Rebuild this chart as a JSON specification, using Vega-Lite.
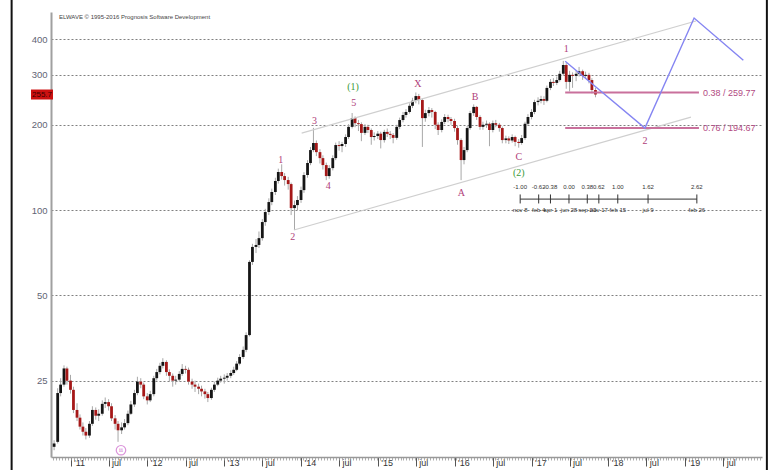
{
"$schema": "https://vega.github.io/schema/vega-lite/v6.json",
"width": 711, "height": 445, "autosize": "none",
"padding": {"left": 51, "top": 12, "right": 13, "bottom": 13},
"background": "white",
"config": {"view": {"stroke": null}, "font": "Liberation Sans"},
"resolve": {"axis": {"x": "independent", "y": "independent"}},
"datasets": {
"candles": [
{"d":"2010-10-15","o":14.6,"h":15.4,"l":14.2,"c":15.0},
{"d":"2010-11-01","o":15.2,"h":23.5,"l":15.0,"c":22.6},
{"d":"2010-11-15","o":22.6,"h":25.5,"l":22.0,"c":24.2},
{"d":"2010-12-01","o":24.2,"h":28.3,"l":23.8,"c":27.6},
{"d":"2010-12-15","o":27.6,"h":28.0,"l":24.2,"c":25.0},
{"d":"2011-01-01","o":25.0,"h":26.2,"l":22.5,"c":23.2},
{"d":"2011-01-15","o":23.2,"h":23.8,"l":19.2,"c":19.7},
{"d":"2011-02-01","o":19.7,"h":20.8,"l":18.0,"c":18.5},
{"d":"2011-02-15","o":18.5,"h":19.0,"l":16.8,"c":17.2},
{"d":"2011-03-01","o":17.2,"h":17.8,"l":16.0,"c":16.5},
{"d":"2011-03-15","o":16.5,"h":17.0,"l":15.5,"c":16.0},
{"d":"2011-04-01","o":16.0,"h":18.0,"l":15.7,"c":17.6},
{"d":"2011-04-15","o":17.6,"h":20.3,"l":17.3,"c":19.7},
{"d":"2011-05-01","o":19.7,"h":20.1,"l":18.2,"c":18.8},
{"d":"2011-05-15","o":18.8,"h":19.8,"l":18.0,"c":19.1},
{"d":"2011-06-01","o":19.1,"h":21.3,"l":18.8,"c":20.7},
{"d":"2011-06-15","o":20.7,"h":21.8,"l":20.0,"c":21.0},
{"d":"2011-07-01","o":21.0,"h":21.5,"l":19.6,"c":20.3},
{"d":"2011-07-15","o":20.3,"h":20.8,"l":18.0,"c":18.4},
{"d":"2011-08-01","o":18.4,"h":18.9,"l":16.8,"c":17.6},
{"d":"2011-08-15","o":17.6,"h":18.0,"l":15.2,"c":16.7},
{"d":"2011-09-01","o":16.7,"h":17.8,"l":16.2,"c":17.1},
{"d":"2011-09-15","o":17.1,"h":18.3,"l":16.8,"c":17.7},
{"d":"2011-10-01","o":17.7,"h":19.6,"l":17.4,"c":19.1},
{"d":"2011-10-15","o":19.1,"h":21.2,"l":18.9,"c":20.6},
{"d":"2011-11-01","o":20.6,"h":23.2,"l":20.2,"c":22.6},
{"d":"2011-11-15","o":22.6,"h":25.8,"l":22.2,"c":24.8},
{"d":"2011-12-01","o":24.8,"h":25.5,"l":23.5,"c":24.2},
{"d":"2011-12-15","o":24.2,"h":24.6,"l":21.5,"c":22.0},
{"d":"2012-01-01","o":22.0,"h":22.6,"l":20.6,"c":21.3},
{"d":"2012-01-15","o":21.3,"h":23.0,"l":21.0,"c":22.4},
{"d":"2012-02-01","o":22.4,"h":26.0,"l":22.0,"c":25.5},
{"d":"2012-02-15","o":25.5,"h":27.5,"l":25.0,"c":26.8},
{"d":"2012-03-01","o":26.8,"h":28.9,"l":26.3,"c":28.2},
{"d":"2012-03-15","o":28.2,"h":30.0,"l":27.6,"c":29.1},
{"d":"2012-04-01","o":29.1,"h":29.5,"l":26.0,"c":26.8},
{"d":"2012-04-15","o":26.8,"h":27.4,"l":24.8,"c":26.0},
{"d":"2012-05-01","o":26.0,"h":26.5,"l":23.8,"c":25.0},
{"d":"2012-05-15","o":25.0,"h":26.0,"l":24.2,"c":25.2},
{"d":"2012-06-01","o":25.2,"h":27.0,"l":24.8,"c":26.4},
{"d":"2012-06-15","o":26.4,"h":28.6,"l":26.0,"c":27.5},
{"d":"2012-07-01","o":27.5,"h":28.2,"l":26.5,"c":27.3},
{"d":"2012-07-15","o":27.3,"h":27.8,"l":24.2,"c":24.8},
{"d":"2012-08-01","o":24.8,"h":25.4,"l":23.4,"c":24.2},
{"d":"2012-08-15","o":24.2,"h":25.0,"l":22.8,"c":23.8},
{"d":"2012-09-01","o":23.8,"h":24.4,"l":22.4,"c":23.4},
{"d":"2012-09-15","o":23.4,"h":24.0,"l":22.0,"c":22.9},
{"d":"2012-10-01","o":22.9,"h":23.4,"l":21.6,"c":22.4},
{"d":"2012-10-15","o":22.4,"h":22.8,"l":21.0,"c":21.7},
{"d":"2012-11-01","o":21.7,"h":23.6,"l":21.4,"c":23.2},
{"d":"2012-11-15","o":23.2,"h":24.8,"l":22.8,"c":24.2},
{"d":"2012-12-01","o":24.2,"h":25.6,"l":23.9,"c":25.0},
{"d":"2012-12-15","o":25.0,"h":26.0,"l":24.6,"c":25.4},
{"d":"2013-01-01","o":25.4,"h":26.3,"l":24.4,"c":25.6},
{"d":"2013-01-15","o":25.6,"h":26.6,"l":25.0,"c":26.0},
{"d":"2013-02-01","o":26.0,"h":27.2,"l":25.5,"c":26.6},
{"d":"2013-02-15","o":26.6,"h":28.0,"l":26.2,"c":27.3},
{"d":"2013-03-01","o":27.3,"h":29.3,"l":27.0,"c":28.7},
{"d":"2013-03-15","o":28.7,"h":31.0,"l":28.3,"c":30.3},
{"d":"2013-04-01","o":30.3,"h":33.0,"l":29.8,"c":32.1},
{"d":"2013-04-15","o":32.1,"h":37.0,"l":31.5,"c":36.2},
{"d":"2013-05-01","o":36.2,"h":66.5,"l":35.8,"c":65.6},
{"d":"2013-05-15","o":65.6,"h":76.0,"l":64.0,"c":74.1},
{"d":"2013-06-01","o":74.1,"h":79.0,"l":70.5,"c":75.3},
{"d":"2013-06-15","o":75.3,"h":84.0,"l":73.5,"c":79.6},
{"d":"2013-07-01","o":79.6,"h":93.0,"l":78.0,"c":90.7},
{"d":"2013-07-15","o":90.7,"h":101,"l":88.0,"c":98.4},
{"d":"2013-08-01","o":98.4,"h":110,"l":96.0,"c":106.7},
{"d":"2013-08-15","o":106.7,"h":119,"l":104,"c":115.8},
{"d":"2013-09-01","o":115.8,"h":130,"l":113,"c":126.6},
{"d":"2013-09-15","o":126.6,"h":140,"l":124,"c":136.2},
{"d":"2013-10-01","o":136.2,"h":145,"l":128,"c":131.8},
{"d":"2013-10-15","o":131.8,"h":135,"l":122,"c":127.6},
{"d":"2013-11-01","o":127.6,"h":131,"l":118,"c":123.5},
{"d":"2013-11-15","o":123.5,"h":125,"l":96,"c":101.6},
{"d":"2013-12-01","o":101.6,"h":108,"l":85,"c":104.1},
{"d":"2013-12-15","o":104.1,"h":112,"l":100,"c":108.5},
{"d":"2014-01-01","o":108.5,"h":121,"l":106,"c":117.6},
{"d":"2014-01-15","o":117.6,"h":136,"l":115,"c":132.9},
{"d":"2014-02-01","o":132.9,"h":150,"l":130,"c":146.5},
{"d":"2014-02-15","o":146.5,"h":167,"l":144,"c":162.8},
{"d":"2014-03-01","o":162.8,"h":195,"l":160,"c":172.4},
{"d":"2014-03-15","o":172.4,"h":176,"l":155,"c":160.1},
{"d":"2014-04-01","o":160.1,"h":164,"l":146,"c":152.5},
{"d":"2014-04-15","o":152.5,"h":156,"l":139,"c":144.1},
{"d":"2014-05-01","o":144.1,"h":147,"l":127.5,"c":131.8},
{"d":"2014-05-15","o":131.8,"h":144,"l":129,"c":140.6},
{"d":"2014-06-01","o":140.6,"h":156,"l":138,"c":152.5},
{"d":"2014-06-15","o":152.5,"h":173,"l":150,"c":169.6},
{"d":"2014-07-01","o":169.6,"h":175,"l":162,"c":168.2},
{"d":"2014-07-15","o":168.2,"h":174,"l":160,"c":171.0},
{"d":"2014-08-01","o":171.0,"h":185,"l":167,"c":181.0},
{"d":"2014-08-15","o":181.0,"h":201,"l":178,"c":196.6},
{"d":"2014-09-01","o":196.6,"h":220,"l":194,"c":211.1},
{"d":"2014-09-15","o":211.1,"h":214,"l":196,"c":202.6},
{"d":"2014-10-01","o":202.6,"h":208,"l":190,"c":201.0},
{"d":"2014-10-15","o":201.0,"h":204,"l":175,"c":187.2},
{"d":"2014-11-01","o":187.2,"h":201,"l":184,"c":196.6},
{"d":"2014-11-15","o":196.6,"h":200,"l":187,"c":191.6},
{"d":"2014-12-01","o":191.6,"h":194,"l":170,"c":181.0},
{"d":"2014-12-15","o":181.0,"h":188,"l":176,"c":182.5},
{"d":"2015-01-01","o":182.5,"h":190,"l":178,"c":186.0},
{"d":"2015-01-15","o":186.0,"h":189,"l":165,"c":176.6},
{"d":"2015-02-01","o":176.6,"h":192,"l":173,"c":188.7},
{"d":"2015-02-15","o":188.7,"h":194,"l":181,"c":185.7},
{"d":"2015-03-01","o":185.7,"h":190,"l":178,"c":184.1},
{"d":"2015-03-15","o":184.1,"h":187,"l":172,"c":179.8},
{"d":"2015-04-01","o":179.8,"h":200,"l":177,"c":196.6},
{"d":"2015-04-15","o":196.6,"h":212,"l":193,"c":207.8},
{"d":"2015-05-01","o":207.8,"h":222,"l":204,"c":216.5},
{"d":"2015-05-15","o":216.5,"h":227,"l":212,"c":221.9},
{"d":"2015-06-01","o":221.9,"h":238,"l":219,"c":233.3},
{"d":"2015-06-15","o":233.3,"h":249,"l":229,"c":243.0},
{"d":"2015-07-01","o":243.0,"h":260,"l":238,"c":252.5},
{"d":"2015-07-15","o":252.5,"h":257,"l":236,"c":244.5},
{"d":"2015-08-01","o":244.5,"h":248,"l":167,"c":211.1},
{"d":"2015-08-15","o":211.1,"h":226,"l":205,"c":219.9},
{"d":"2015-09-01","o":219.9,"h":231,"l":214,"c":225.4},
{"d":"2015-09-15","o":225.4,"h":229,"l":212,"c":221.9},
{"d":"2015-10-01","o":221.9,"h":224,"l":193,"c":200.0},
{"d":"2015-10-15","o":200.0,"h":204,"l":184,"c":191.6},
{"d":"2015-11-01","o":191.6,"h":209,"l":188,"c":204.6},
{"d":"2015-11-15","o":204.6,"h":218,"l":201,"c":213.0},
{"d":"2015-12-01","o":213.0,"h":217,"l":204,"c":209.5},
{"d":"2015-12-15","o":209.5,"h":213,"l":200,"c":206.2},
{"d":"2016-01-01","o":206.2,"h":210,"l":189,"c":194.7},
{"d":"2016-01-15","o":194.7,"h":198,"l":170,"c":176.6},
{"d":"2016-02-01","o":176.6,"h":179,"l":127.5,"c":150.1},
{"d":"2016-02-15","o":150.1,"h":167,"l":145,"c":162.8},
{"d":"2016-03-01","o":162.8,"h":198,"l":160,"c":194.7},
{"d":"2016-03-15","o":194.7,"h":224,"l":192,"c":219.9},
{"d":"2016-04-01","o":219.9,"h":236,"l":215,"c":231.2},
{"d":"2016-04-15","o":231.2,"h":233,"l":208,"c":213.0},
{"d":"2016-05-01","o":213.0,"h":216,"l":192,"c":196.6},
{"d":"2016-05-15","o":196.6,"h":205,"l":192,"c":200.0},
{"d":"2016-06-01","o":200.0,"h":207,"l":195,"c":201.6},
{"d":"2016-06-15","o":201.6,"h":204,"l":168,"c":191.6},
{"d":"2016-07-01","o":191.6,"h":207,"l":188,"c":202.6},
{"d":"2016-07-15","o":202.6,"h":208,"l":196,"c":200.0},
{"d":"2016-08-01","o":200.0,"h":203,"l":189,"c":194.7},
{"d":"2016-08-15","o":194.7,"h":197,"l":172,"c":176.6},
{"d":"2016-09-01","o":176.6,"h":183,"l":172,"c":179.0},
{"d":"2016-09-15","o":179.0,"h":182,"l":171,"c":176.0},
{"d":"2016-10-01","o":176.0,"h":185,"l":173,"c":181.0},
{"d":"2016-10-15","o":181.0,"h":183,"l":168,"c":174.0},
{"d":"2016-11-01","o":174.0,"h":178,"l":166,"c":172.4},
{"d":"2016-11-15","o":172.4,"h":184,"l":170,"c":179.5},
{"d":"2016-12-01","o":179.5,"h":205,"l":177,"c":201.6},
{"d":"2016-12-15","o":201.6,"h":218,"l":199,"c":213.0},
{"d":"2017-01-01","o":213.0,"h":227,"l":209,"c":221.9},
{"d":"2017-01-15","o":221.9,"h":245,"l":218,"c":240.5},
{"d":"2017-02-01","o":240.5,"h":250,"l":234,"c":243.0},
{"d":"2017-02-15","o":243.0,"h":253,"l":238,"c":246.5},
{"d":"2017-03-01","o":246.5,"h":252,"l":235,"c":243.0},
{"d":"2017-03-15","o":243.0,"h":275,"l":240,"c":269.8},
{"d":"2017-04-01","o":269.8,"h":290,"l":265,"c":283.3},
{"d":"2017-04-15","o":283.3,"h":292,"l":274,"c":281.0},
{"d":"2017-05-01","o":281.0,"h":296,"l":276,"c":287.6},
{"d":"2017-05-15","o":287.6,"h":310,"l":284,"c":302.5},
{"d":"2017-06-01","o":302.5,"h":336,"l":298,"c":324.9},
{"d":"2017-06-15","o":324.9,"h":330,"l":268,"c":283.3},
{"d":"2017-07-01","o":283.3,"h":310,"l":262,"c":300.0},
{"d":"2017-07-15","o":300.0,"h":306,"l":270,"c":297.5},
{"d":"2017-08-01","o":297.5,"h":312,"l":285,"c":302.5},
{"d":"2017-08-15","o":302.5,"h":320,"l":296,"c":309.0},
{"d":"2017-09-01","o":309.0,"h":313,"l":288,"c":297.5},
{"d":"2017-09-15","o":297.5,"h":308,"l":290,"c":300.0},
{"d":"2017-10-01","o":300.0,"h":305,"l":280,"c":287.6},
{"d":"2017-10-15","o":287.6,"h":292,"l":258,"c":265.2},
{"d":"2017-11-01","o":265.2,"h":270,"l":250,"c":255.7}
],
"channel": [
{"id":"upper","d":"2014-01-04","v":186.9},
{"id":"upper","d":"2019-02-22","v":464.6},
{"id":"lower","d":"2013-11-28","v":85.0},
{"id":"lower","d":"2019-01-29","v":212.9}
],
"projection": [
{"d":"2017-06-10","v":335},
{"d":"2018-06-24","v":194.67},
{"d":"2019-02-13","v":476},
{"d":"2019-10-05","v":338}
],
"fib": [
{"d":"2017-06-10","d2":"2019-03-08","v":259.77,"t":"0.38 / 259.77"},
{"d":"2017-06-10","d2":"2019-03-08","v":194.67,"t":"0.76 / 194.67"}
],
"waves": [
{"d":"2013-09-27","v":150.1,"t":"1"},
{"d":"2013-11-23","v":80.3,"t":"2"},
{"d":"2014-03-06","v":206,"t":"3"},
{"d":"2014-05-10","v":121.5,"t":"4"},
{"d":"2014-09-09","v":238.6,"t":"5"},
{"d":"2015-07-10","v":278.4,"t":"X"},
{"d":"2016-02-02","v":114.8,"t":"A"},
{"d":"2016-04-08","v":250.5,"t":"B"},
{"d":"2016-11-01","v":153.8,"t":"C"},
{"d":"2017-06-15","v":370,"t":"1"},
{"d":"2018-06-24","v":175.2,"t":"2"}
],
"degree": [
{"d":"2014-09-05","v":271.7,"t":"(1)"},
{"d":"2016-11-01","v":135.1,"t":"(2)"}
],
"ruler": [
{"d":"2016-11-08","f":"-1.00","t":"nov 8"},
{"d":"2017-02-04","f":"-0.62","t":"feb 4"},
{"d":"2017-04-01","f":"-0.38","t":"apr 1"},
{"d":"2017-06-28","f":"0.00","t":"jun 28"},
{"d":"2017-09-23","f":"0.38","t":"sep 23"},
{"d":"2017-11-17","f":"0.62","t":"nov 17"},
{"d":"2018-02-15","f":"1.00","t":"feb 15"},
{"d":"2018-07-09","f":"1.62","t":"jul 9"},
{"d":"2019-02-26","f":"2.62","t":"feb 26"}
],
"marker": [{"d":"2011-08-29","v":14.2,"t":"ii"}],
"lastprice": [{"d":"2010-10-24","v":255.7,"t":"255.7"}],
"credit": [{"d":"2010-10-24","v":500,"t":"ELWAVE © 1995-2016 Prognosis Software Development"}],
"frame": [
{"d":"2010-03-27","v":700,"v2":11},
{"d":"2020-01-25","v":700,"v2":11}
]
},
"layer": [
{
"data": {"name": "candles"},
"mark": {"type": "rule", "color": "#a8a8a8", "strokeWidth": 1},
"encoding": {
"x": {"field": "d", "type": "temporal",
"scale": {"domain": [{"year": 2010, "month": 10, "date": 24}, {"year": 2019, "month": 12, "date": 9}], "nice": false},
"axis": {"title": null, "orient": "bottom", "grid": false,
"values": [{"year":2011,"month":1,"date":1},{"year":2011,"month":7,"date":1},{"year":2012,"month":1,"date":1},{"year":2012,"month":7,"date":1},{"year":2013,"month":1,"date":1},{"year":2013,"month":7,"date":1},{"year":2014,"month":1,"date":1},{"year":2014,"month":7,"date":1},{"year":2015,"month":1,"date":1},{"year":2015,"month":7,"date":1},{"year":2016,"month":1,"date":1},{"year":2016,"month":7,"date":1},{"year":2017,"month":1,"date":1},{"year":2017,"month":7,"date":1},{"year":2018,"month":1,"date":1},{"year":2018,"month":7,"date":1},{"year":2019,"month":1,"date":1},{"year":2019,"month":7,"date":1}],
"labelExpr": "month(datum.value) == 0 ? \"'\" + timeFormat(datum.value, '%y') : 'jul'",
"labelAlign": "left", "labelBaseline": "top", "labelOffset": 3, "labelPadding": -8,
"labelFontSize": 9, "labelColor": "#333", "labelFlush": false, "labelOverlap": false, "labelBound": false,
"tickSize": 9, "tickColor": "#555", "tickWidth": 1,
"domainColor": "#999", "domainWidth": 1.5}},
"y": {"field": "l", "type": "quantitative",
"scale": {"type": "log", "domain": [13.44, 500], "nice": false},
"axis": {"title": null, "orient": "left", "values": [25, 50, 100, 200, 300, 400], "format": "d",
"grid": true, "gridDash": [2, 2], "gridColor": "#808080", "gridWidth": 1,
"tickSize": 0, "labelPadding": 4, "labelFontSize": 9.5, "labelColor": "#5f6474",
"domainColor": "#a0a0a0", "domainWidth": 2}},
"y2": {"field": "h"}
}
},
{
"data": {"name": "candles"},
"mark": {"type": "bar", "size": 2.8},
"encoding": {
"x": {"field": "d", "type": "temporal",
"axis": {"title": null, "orient": "bottom", "grid": false, "labels": false, "domain": false,
"tickCount": {"interval": "week", "step": 2}, "tickSize": 3, "tickColor": "#999", "tickWidth": 0.8}},
"y": {"field": "o", "type": "quantitative", "axis": null},
"y2": {"field": "c"},
"color": {"condition": {"test": "datum.o > datum.c", "value": "#a51818"}, "value": "#151515"}
}
},
{
"data": {"name": "channel"},
"mark": {"type": "line", "color": "#cfcfcf", "strokeWidth": 1.2},
"encoding": {
"x": {"field": "d", "type": "temporal", "axis": null},
"y": {"field": "v", "type": "quantitative", "axis": null},
"detail": {"field": "id"}
}
},
{
"data": {"name": "fib"},
"mark": {"type": "rule", "color": "#c9709c", "strokeWidth": 2},
"encoding": {
"x": {"field": "d", "type": "temporal", "axis": null},
"x2": {"field": "d2"},
"y": {"field": "v", "type": "quantitative", "axis": null}
}
},
{
"data": {"name": "fib"},
"mark": {"type": "text", "align": "left", "baseline": "middle", "dx": 4, "fontSize": 9, "color": "#b24a82"},
"encoding": {
"x": {"field": "d2", "type": "temporal", "axis": null},
"y": {"field": "v", "type": "quantitative", "axis": null},
"text": {"field": "t"}
}
},
{
"data": {"name": "projection"},
"mark": {"type": "line", "color": "#8585f2", "strokeWidth": 1.4},
"encoding": {
"x": {"field": "d", "type": "temporal", "axis": null},
"y": {"field": "v", "type": "quantitative", "axis": null}
}
},
{
"data": {"name": "waves"},
"mark": {"type": "text", "font": "Liberation Serif", "fontSize": 10, "color": "#b0407a", "baseline": "middle"},
"encoding": {
"x": {"field": "d", "type": "temporal", "axis": null},
"y": {"field": "v", "type": "quantitative", "axis": null},
"text": {"field": "t"}
}
},
{
"data": {"name": "degree"},
"mark": {"type": "text", "font": "Liberation Serif", "fontSize": 10, "color": "#3a9a3a", "baseline": "middle"},
"encoding": {
"x": {"field": "d", "type": "temporal", "axis": null},
"y": {"field": "v", "type": "quantitative", "axis": null},
"text": {"field": "t"}
}
},
{
"data": {"name": "ruler"},
"mark": {"type": "rule", "color": "#333", "strokeWidth": 1},
"encoding": {
"x": {"aggregate": "min", "field": "d", "type": "temporal", "axis": null},
"x2": {"aggregate": "max", "field": "d"},
"y": {"datum": 109.3, "type": "quantitative", "axis": null}
}
},
{
"data": {"name": "ruler"},
"mark": {"type": "rule", "color": "#333", "strokeWidth": 1},
"encoding": {
"x": {"field": "d", "type": "temporal", "axis": null},
"y": {"datum": 113.5, "type": "quantitative", "axis": null},
"y2": {"datum": 105.5}
}
},
{
"data": {"name": "ruler"},
"mark": {"type": "text", "fontSize": 6, "color": "#333", "baseline": "middle"},
"encoding": {
"x": {"field": "d", "type": "temporal", "axis": null},
"y": {"datum": 120.5, "type": "quantitative", "axis": null},
"text": {"field": "f"}
}
},
{
"data": {"name": "ruler"},
"mark": {"type": "text", "fontSize": 6, "color": "#333", "baseline": "middle"},
"encoding": {
"x": {"field": "d", "type": "temporal", "axis": null},
"y": {"datum": 100, "type": "quantitative", "axis": null},
"text": {"field": "t"}
}
},
{
"data": {"name": "marker"},
"mark": {"type": "point", "shape": "circle", "size": 90, "filled": false, "stroke": "#cc66cc", "strokeWidth": 1.2},
"encoding": {
"x": {"field": "d", "type": "temporal", "axis": null},
"y": {"field": "v", "type": "quantitative", "axis": null}
}
},
{
"data": {"name": "marker"},
"mark": {"type": "text", "font": "Liberation Serif", "fontSize": 7, "color": "#cc66cc", "baseline": "middle"},
"encoding": {
"x": {"field": "d", "type": "temporal", "axis": null},
"y": {"field": "v", "type": "quantitative", "axis": null},
"text": {"field": "t"}
}
},
{
"data": {"name": "lastprice"},
"mark": {"type": "rect", "width": 22, "height": 10, "xOffset": -14, "color": "#cc1010"},
"encoding": {
"x": {"field": "d", "type": "temporal", "axis": null},
"y": {"field": "v", "type": "quantitative", "axis": null}
}
},
{
"data": {"name": "lastprice"},
"mark": {"type": "text", "fontSize": 8, "color": "#3a0000", "xOffset": -14, "baseline": "middle"},
"encoding": {
"x": {"field": "d", "type": "temporal", "axis": null},
"y": {"field": "v", "type": "quantitative", "axis": null},
"text": {"field": "t"}
}
},
{
"data": {"name": "credit"},
"mark": {"type": "text", "fontSize": 6, "color": "#444", "align": "left", "baseline": "top", "dx": 3, "dy": 2},
"encoding": {
"x": {"field": "d", "type": "temporal", "axis": null},
"y": {"field": "v", "type": "quantitative", "axis": null},
"text": {"field": "t"}
}
},
{
"data": {"name": "frame"},
"mark": {"type": "rule", "color": "#111", "strokeWidth": 2, "clip": false},
"encoding": {
"x": {"field": "d", "type": "temporal", "axis": null},
"y": {"field": "v", "type": "quantitative", "axis": null},
"y2": {"field": "v2"}
}
}
]
}
